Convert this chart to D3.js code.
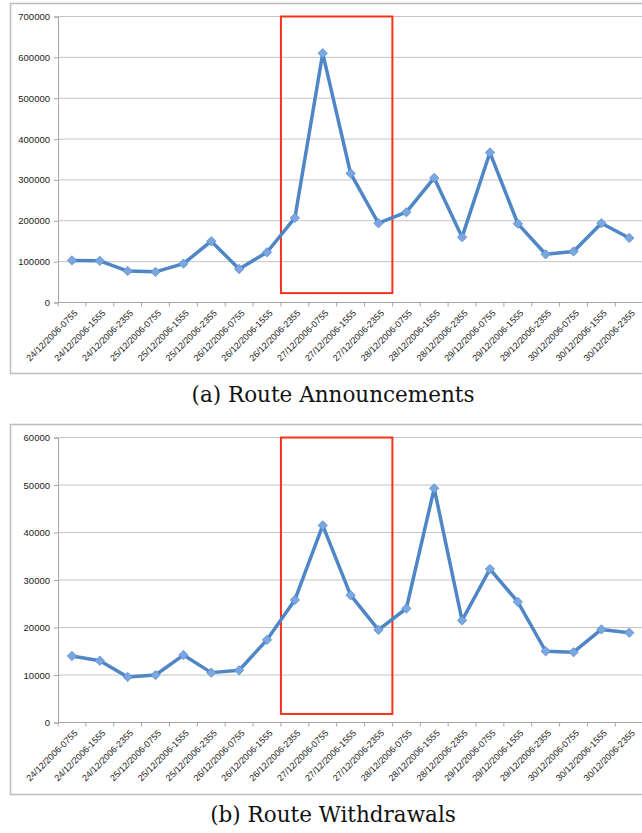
<!DOCTYPE html>
<html>
<head>
<meta charset="utf-8">
<script src="https://cdn.jsdelivr.net/npm/d3@7"></script>
<style>
  body { margin: 0; background: #fff; }
  svg { display: block; }
</style>
</head>
<body>
<div id="chart"></div>
<script>
// categories (time slots)
const slots = [
  "24/12/2006-0755", "24/12/2006-1555", "24/12/2006-2355",
  "25/12/2006-0755", "25/12/2006-1555", "25/12/2006-2355",
  "26/12/2006-0755", "26/12/2006-1555", "26/12/2006-2355",
  "27/12/2006-0755", "27/12/2006-1555", "27/12/2006-2355",
  "28/12/2006-0755", "28/12/2006-1555", "28/12/2006-2355",
  "29/12/2006-0755", "29/12/2006-1555", "29/12/2006-2355",
  "30/12/2006-0755", "30/12/2006-1555", "30/12/2006-2355"
];

const announcements = [
  103000, 102000, 77000, 75000, 95000, 150000, 82000, 123000, 207000,
  610000, 316000, 194000, 221000, 305000, 160000, 367000, 193000,
  118000, 125000, 194000, 158000
];

const withdrawals = [
  14000, 13000, 9600, 10000, 14200, 10500, 11000, 17400, 25800,
  41500, 26800, 19500, 24000, 49300, 21500, 32300, 25400,
  15000, 14800, 19600, 18900
];

const annTicks = [0, 100000, 200000, 300000, 400000, 500000, 600000, 700000];
const wdrTicks = [0, 10000, 20000, 30000, 40000, 50000, 60000];

// highlighted window
const highlightFrom = "26/12/2006-2355";
const highlightTo = "27/12/2006-2355";

const width = 642, height = 833;

const svg = d3.select("#chart").append("svg")
  .attr("width", width)
  .attr("height", height);

function drawPanel(opts) {
  const g = svg.append("g");

  // outer frame
  g.append("rect")
    .attr("x", 10.5).attr("y", opts.frameTop + 0.5)
    .attr("width", 640).attr("height", opts.frameBottom - opts.frameTop)
    .attr("fill", "none").attr("stroke", "#bdbdbd").attr("stroke-width", 1.5);

  const x = d3.scaleBand().domain(slots).range([58, 643.2]);
  const y = d3.scaleLinear().domain([0, opts.ticks[opts.ticks.length - 1]])
    .range([opts.bottom, opts.top]);

  // gridlines
  g.selectAll(".grid").data(opts.ticks.slice(1)).enter().append("line")
    .attr("x1", 58).attr("x2", width)
    .attr("y1", d => y(d)).attr("y2", d => y(d))
    .attr("stroke", "#c4c4c4").attr("stroke-width", 1);

  // y axis
  const yAxis = g.append("g")
    .attr("transform", "translate(58,0)")
    .call(d3.axisLeft(y).tickValues(opts.ticks).tickSize(4).tickPadding(4).tickFormat(d3.format("d")));
  yAxis.select(".domain").attr("stroke", "#a6a6a6");
  yAxis.selectAll(".tick line").attr("stroke", "#a6a6a6");
  yAxis.selectAll("text")
    .attr("font-family", "'Liberation Sans', Arial, sans-serif")
    .attr("font-size", 9.5).attr("fill", "#222");

  // x axis with ticks at band boundaries
  g.append("line")
    .attr("x1", 58).attr("x2", width)
    .attr("y1", opts.bottom).attr("y2", opts.bottom)
    .attr("stroke", "#a6a6a6").attr("stroke-width", 1);
  g.selectAll(".xtick").data(slots).enter().append("line")
    .attr("x1", d => x(d) + x.bandwidth()).attr("x2", d => x(d) + x.bandwidth())
    .attr("y1", opts.bottom).attr("y2", opts.bottom + 4)
    .attr("stroke", "#a6a6a6");
  g.append("line")
    .attr("x1", 58).attr("x2", 58)
    .attr("y1", opts.bottom).attr("y2", opts.bottom + 4)
    .attr("stroke", "#a6a6a6");

  g.selectAll(".xlab").data(slots).enter().append("text")
    .attr("transform", d => `translate(${x(d) + x.bandwidth() / 2 + 4},${opts.bottom + 9}) rotate(-45)`)
    .attr("text-anchor", "end")
    .attr("dy", "0.35em")
    .attr("font-family", "'Liberation Sans', Arial, sans-serif")
    .attr("font-size", 9).attr("fill", "#222")
    .text(d => d);

  // highlight box
  g.append("rect")
    .attr("x", x(highlightFrom))
    .attr("y", y(opts.boxTop))
    .attr("width", x(highlightTo) + x.bandwidth() - x(highlightFrom))
    .attr("height", y(opts.boxBottom) - y(opts.boxTop))
    .attr("fill", "none").attr("stroke", "#f5331b").attr("stroke-width", 2);

  // line
  const line = d3.line()
    .x((d, i) => x(slots[i]) + x.bandwidth() / 2)
    .y(d => y(d));
  g.append("path")
    .datum(opts.values)
    .attr("d", line)
    .attr("fill", "none")
    .attr("stroke", "#4f86c6")
    .attr("stroke-width", 3.5)
    .attr("stroke-linejoin", "round");

  // diamond markers
  g.selectAll(".pt").data(opts.values).enter().append("path")
    .attr("d", d3.symbol().type(d3.symbolDiamond2).size(56))
    .attr("transform", (d, i) => `translate(${x(slots[i]) + x.bandwidth() / 2},${y(d)})`)
    .attr("fill", "#7aa7e0")
    .attr("stroke", "#5b8fd0")
    .attr("stroke-width", 0.8);

  // caption
  svg.append("text")
    .attr("x", 333).attr("y", opts.captionY)
    .attr("text-anchor", "middle")
    .attr("font-family", "'DejaVu Serif', 'Liberation Serif', serif")
    .attr("font-size", 21.5)
    .attr("fill", "#111")
    .text(opts.caption);
}

drawPanel({
  values: announcements, ticks: annTicks,
  frameTop: 3, frameBottom: 373, top: 16.5, bottom: 302.5,
  boxTop: 700000, boxBottom: 23000,
  caption: "(a) Route Announcements", captionY: 402
});

drawPanel({
  values: withdrawals, ticks: wdrTicks,
  frameTop: 424, frameBottom: 794, top: 437.5, bottom: 722.5,
  boxTop: 60000, boxBottom: 1800,
  caption: "(b) Route Withdrawals", captionY: 822
});
</script>
</body>
</html>
